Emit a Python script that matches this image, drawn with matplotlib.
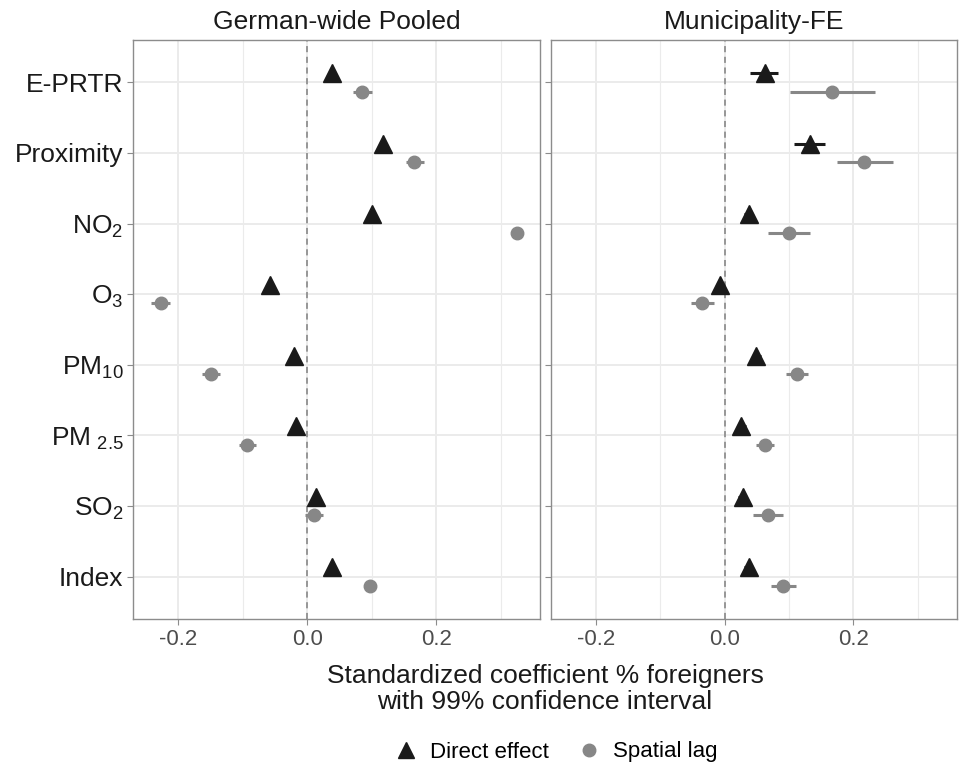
import numpy as np
import matplotlib
matplotlib.use("Agg")
import matplotlib.pyplot as plt
from matplotlib.lines import Line2D

plt.rcParams['font.family'] = ['Liberation Sans', 'DejaVu Sans']
plt.rcParams['mathtext.fontset'] = 'custom'
plt.rcParams['mathtext.rm'] = 'Liberation Sans'
plt.rcParams['mathtext.default'] = 'regular'

# variables, top to bottom
labels = ['E-PRTR', 'Proximity', 'NO$_2$', 'O$_3$', 'PM$_{10}$', 'PM$_{\\ 2.5}$', 'SO$_2$', 'Index']

# German-wide pooled
pooled_direct = [0.038, 0.118, 0.100, -0.058, -0.021, -0.017, 0.014, 0.038]
pooled_direct_lo = [0.033, 0.113, 0.095, -0.063, -0.026, -0.022, 0.009, 0.033]
pooled_direct_hi = [0.043, 0.123, 0.105, -0.053, -0.016, -0.012, 0.019, 0.043]
pooled_lag = [0.085, 0.166, 0.326, -0.227, -0.149, -0.093, 0.010, 0.098]
pooled_lag_lo = [0.071, 0.153, 0.318, -0.242, -0.163, -0.106, -0.003, 0.090]
pooled_lag_hi = [0.101, 0.181, 0.334, -0.213, -0.135, -0.079, 0.024, 0.106]

# Municipality fixed effects
fe_direct = [0.062, 0.132, 0.037, -0.007, 0.049, 0.026, 0.028, 0.037]
fe_direct_lo = [0.039, 0.108, 0.030, -0.013, 0.042, 0.019, 0.021, 0.030]
fe_direct_hi = [0.083, 0.156, 0.044, -0.001, 0.056, 0.033, 0.035, 0.044]
fe_lag = [0.166, 0.217, 0.100, -0.035, 0.113, 0.062, 0.067, 0.091]
fe_lag_lo = [0.101, 0.174, 0.068, -0.053, 0.095, 0.048, 0.044, 0.072]
fe_lag_hi = [0.233, 0.262, 0.132, -0.017, 0.130, 0.076, 0.091, 0.111]

panel_titles = ['German-wide Pooled', 'Municipality-FE']

DIRECT_COL = '#1a1a1a'
LAG_COL = '#878787'
GRID_COL = '#ebebeb'
BORDER_COL = '#8c8c8c'

fig = plt.figure(figsize=(9.62, 7.67), dpi=100)
ax_l = fig.add_axes([0.1383, 0.193, 0.423, 0.7549])
ax_r = fig.add_axes([0.5728, 0.193, 0.422, 0.7549])

n = len(labels)
ypos = np.arange(n)[::-1] + 1.0
dodge = 0.13

panels = [
    (ax_l, pooled_direct, pooled_direct_lo, pooled_direct_hi, pooled_lag, pooled_lag_lo, pooled_lag_hi),
    (ax_r, fe_direct, fe_direct_lo, fe_direct_hi, fe_lag, fe_lag_lo, fe_lag_hi),
]

for i, (ax, d, dlo, dhi, s, slo, shi) in enumerate(panels):
    ax.set_xlim(-0.27, 0.361)
    ax.set_ylim(0.4, n + 0.6)
    ax.set_xticks([-0.2, 0.0, 0.2])
    ax.set_xticks([-0.1, 0.1, 0.3], minor=True)
    ax.set_xticklabels(['-0.2', '0.0', '0.2'])
    ax.set_yticks(ypos)
    if i == 0:
        ax.set_yticklabels(labels, fontsize=19, color='#1a1a1a')
    else:
        ax.set_yticklabels([])
    ax.tick_params(axis='x', labelsize=16, labelcolor='#4d4d4d', color=BORDER_COL, length=4, width=0.8, pad=3)
    ax.tick_params(axis='y', color=BORDER_COL, length=4, width=0.8, pad=3)
    ax.tick_params(which='minor', length=0)
    ax.grid(which='major', color=GRID_COL, linewidth=1.4, zorder=0)
    ax.grid(which='minor', axis='x', color=GRID_COL, linewidth=0.8, zorder=0)
    ax.set_axisbelow(True)
    for sp in ax.spines.values():
        sp.set_color(BORDER_COL)
        sp.set_linewidth(1.0)
    ax.axvline(0, color='#7f7f7f', linestyle=(0, (4, 3)), linewidth=1.1, zorder=1)

    yd = ypos + dodge
    ys = ypos - dodge
    ax.hlines(yd, dlo, dhi, color=DIRECT_COL, linewidth=2.2, zorder=2)
    ax.hlines(ys, slo, shi, color=LAG_COL, linewidth=2.2, zorder=2)
    ax.plot(d, yd, linestyle='none', marker='^', markersize=13, color=DIRECT_COL, zorder=3)
    ax.plot(s, ys, linestyle='none', marker='o', markersize=9, color=LAG_COL, zorder=3)
    ax.set_title(panel_titles[i], fontsize=19, color='#1a1a1a', pad=8)

fig.text(0.5665, 1 - 689 / 767, 'Standardized coefficient % foreigners\nwith 99% confidence interval',
         ha='center', va='center', fontsize=19, color='#1a1a1a', linespacing=1.15)

handles = [
    Line2D([], [], linestyle='none', marker='^', markersize=12, color=DIRECT_COL, label='Direct effect'),
    Line2D([], [], linestyle='none', marker='o', markersize=9, color=LAG_COL, label='Spatial lag'),
]
fig.legend(handles=handles, loc='center', bbox_to_anchor=(555 / 962, 1 - 752 / 767), ncol=2,
           frameon=False, fontsize=16, handletextpad=0.5, columnspacing=1.2, handlelength=1.2)

fig.savefig('out.png', dpi=100)
